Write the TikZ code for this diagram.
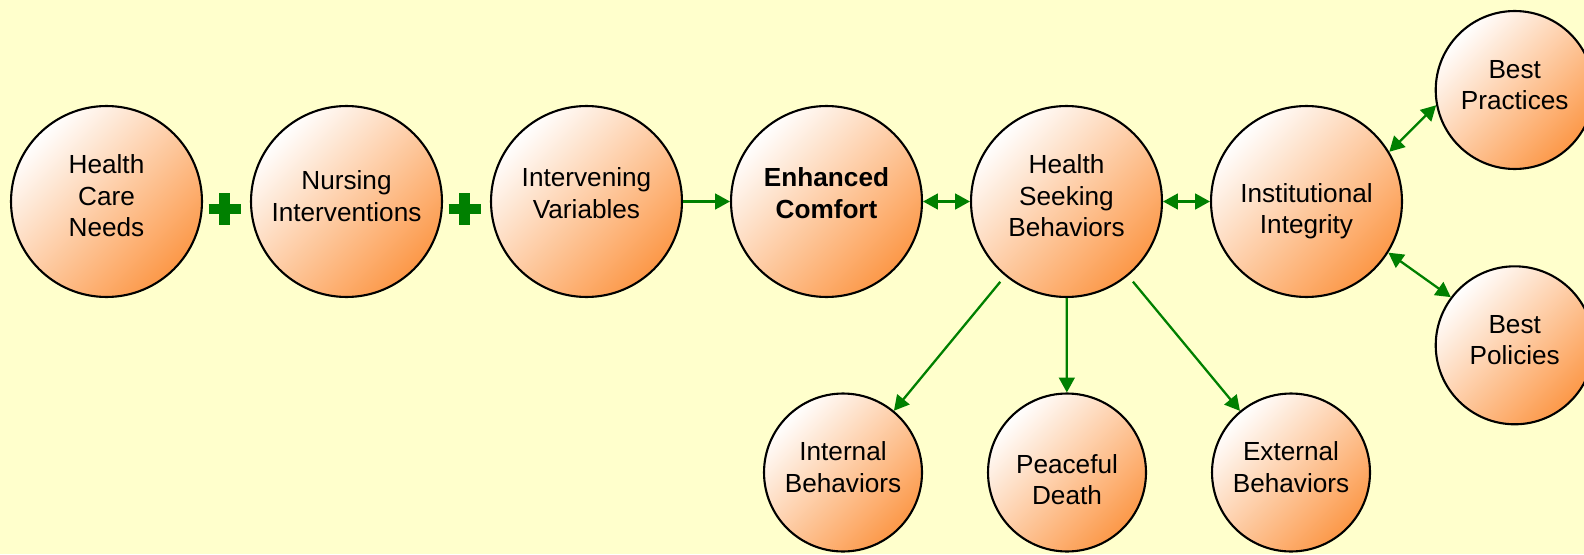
\documentclass[tikz,border=0pt]{standalone}
\usepackage{fontspec}
\setmainfont{Liberation Sans}
\usetikzlibrary{arrows.meta}
\definecolor{bgyellow}{RGB}{255,255,204}
\definecolor{linkgreen}{RGB}{0,128,0}
\definecolor{peach}{RGB}{252,152,72}
% text block of a bubble, lowered by the optional argument
\newcommand{\bubbletext}[2][-2.2pt]{\raisebox{#1}[0pt][0pt]{\begin{tabular}{@{}c@{}}#2\end{tabular}}}
\tikzset{
  bubble/.style={circle, draw=black, line width=1.2pt, minimum size=3.82cm,
    top color=white, bottom color=peach, shading angle=45,
    font=\fontsize{14.9}{18}\selectfont, inner sep=0pt},
  smallbubble/.style={bubble, minimum size=3.16cm},
  link/.style={-{Triangle[length=8.5pt,width=9pt]}, linkgreen, line width=1.3pt},
  twoway/.style={{Triangle[length=8.5pt,width=9pt]}-{Triangle[length=8.5pt,width=9pt]}, linkgreen, line width=1.3pt},
  plusmark/.style={linkgreen, line width=5.9pt}
}
\begin{document}
\begin{tikzpicture}[x=0.02cm, y=-0.02cm]
    % Background
    \fill[bgyellow] (0,0) rectangle (1584,554);
    \useasboundingbox (0,0) rectangle (1584,554);

    % Top row
    \node[bubble] (needs) at (106.5,201.5) {\bubbletext{Health\\Care\\Needs}};
    \node[bubble] (nursing) at (346.5,201.5) {\bubbletext{Nursing\\Interventions}};
    \node[bubble] (variables) at (586.5,201.5) {\bubbletext[-0.6pt]{Intervening\\Variables}};
    \node[bubble, font=\fontsize{14.9}{18}\selectfont\bfseries] (comfort) at (826.5,201.5) {\bubbletext[-0.6pt]{Enhanced\\Comfort}};
    \node[bubble] (seeking) at (1066.5,201.5) {\bubbletext{Health\\Seeking\\Behaviors}};
    \node[bubble] (integrity) at (1306.5,201.5) {\bubbletext[-9.3pt]{Institutional\\Integrity}};

    % Right side
    \node[smallbubble] (practices) at (1514.7,90) {\bubbletext{Best\\Practices}};
    \node[smallbubble] (policies) at (1514.7,345.3) {\bubbletext{Best\\Policies}};

    % Bottom row
    \node[smallbubble] (internal) at (843,472.5) {\bubbletext{Internal\\Behaviors}};
    \node[smallbubble] (death) at (1067,472.5) {\bubbletext[-9.3pt]{Peaceful\\Death}};
    \node[smallbubble] (external) at (1291,472.5) {\bubbletext{External\\Behaviors}};

    % Plus signs
    \foreach \px in {224.5,464.5}{
        \coordinate (plus) at (\px,209);
        \draw[plusmark] (plus) ++(-16,0) -- ++(32,0);
        \draw[plusmark] (plus) ++(0,-16) -- ++(0,32);
    }

    % Links
    \draw[link] (variables) -- (comfort);
    \draw[twoway] (comfort) -- (seeking);
    \draw[twoway] (seeking) -- (integrity);
    \draw[twoway] (integrity.31) -- (practices.191);
    \draw[twoway] (integrity.328) -- (policies.143);
    \draw[link, shorten <=4.3pt] (seeking) -- (internal);
    \draw[link] (seeking) -- (death);
    \draw[link, shorten <=4.3pt] (seeking) -- (external);
\end{tikzpicture}
\end{document}
